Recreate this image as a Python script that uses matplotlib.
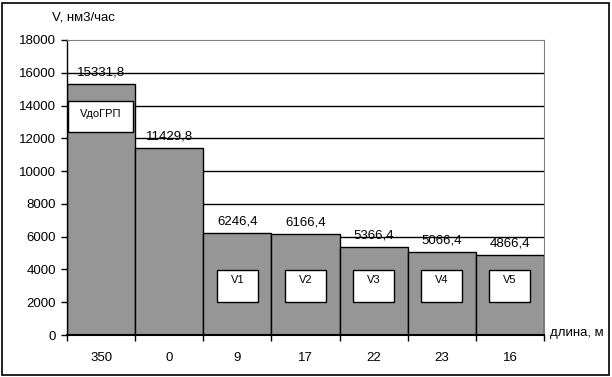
import matplotlib.pyplot as plt
import numpy as np

plt.rcParams['font.family'] = ['Liberation Sans', 'DejaVu Sans']

# data
lengths = ['350', '0', '9', '17', '22', '23', '16']
flows = [15331.8, 11429.8, 6246.4, 6166.4, 5366.4, 5066.4, 4866.4]
box_names = ['VдоГРП', '', 'V1', 'V2', 'V3', 'V4', 'V5']

fig = plt.figure(figsize=(6.12, 3.77), dpi=100)
ax = fig.add_axes([67/612, 42/377, 477/612, 295/377])

x = np.arange(len(flows))
ax.bar(x, flows, width=1.0, color='#969696', edgecolor='black', linewidth=1, zorder=2)

# value labels above bars
for i, v in enumerate(flows):
    ax.annotate(f'{v:.1f}'.replace('.', ','), (i, v), xytext=(0, 4), textcoords='offset points',
                ha='center', va='bottom', fontsize=9.5, zorder=4)

# white boxes with names inside the bars
for i, name in enumerate(box_names):
    if not name:
        continue
    if i == 0:
        x0, w, y0, h, ty = -0.49, 0.96, 12400, 1850, 0.6
    else:
        x0, w, y0, h, ty = i - 0.3, 0.6, 2000, 1950, 0.68
    ax.add_patch(plt.Rectangle((x0, y0), w, h, facecolor='white', edgecolor='black',
                               linewidth=1, zorder=3))
    ax.text(x0 + w/2, y0 + h*ty, name, ha='center', va='center', fontsize=8, zorder=4)

ax.set_xlim(-0.5, len(flows) - 0.5)
ax.set_ylim(0, 18000)
ax.set_yticks(range(0, 18001, 2000))
for yv in range(2000, 18000, 2000):
    ax.axhline(yv, color='black', linewidth=1, zorder=1)

ax.set_xticks(np.arange(-0.5, len(flows)), [''] * (len(flows) + 1))
ax.set_xticks(x, lengths, minor=True)
ax.tick_params(axis='x', which='major', length=4, width=1, direction='out')
ax.tick_params(axis='x', which='minor', length=0, pad=12, labelsize=9.5)
ax.tick_params(axis='y', length=4, width=1, labelsize=9.5, pad=4)

ax.spines['top'].set_color('#808080')
ax.spines['right'].set_color('#808080')
ax.spines['left'].set_linewidth(1)
ax.spines['bottom'].set_linewidth(1.5)
ax.spines['bottom'].set_zorder(5)

fig.text(52/612, 1 - 17/377, 'V, нм3/час', ha='left', va='center', fontsize=9.5)
fig.text(550/612, 1 - 333/377, 'длина, м', ha='left', va='center', fontsize=9.5)

# outer border
fig.patches.append(plt.Rectangle((2/612, 2/377), 607/612, 372/377, transform=fig.transFigure,
                                 fill=False, edgecolor='black', linewidth=1.2))

fig.savefig('out.png', dpi=100)
